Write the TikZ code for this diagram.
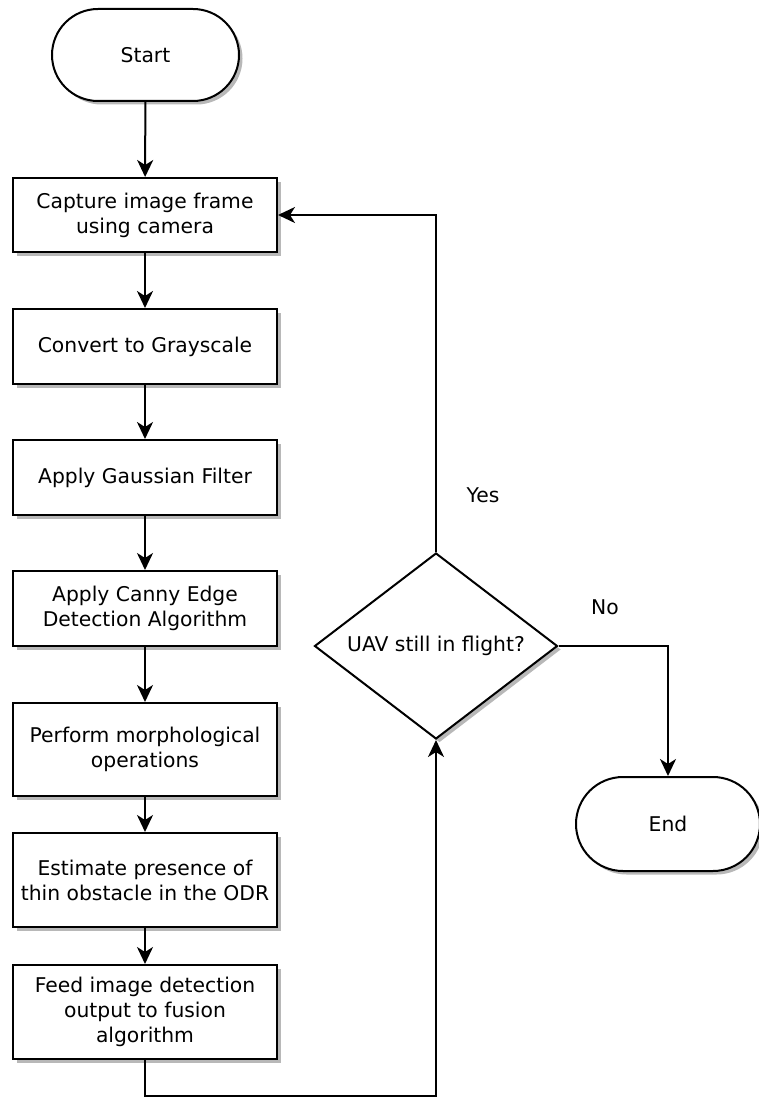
\documentclass[tikz,border=0pt]{standalone}
\usepackage{fontspec}
\setmainfont{DejaVu Sans}
\usetikzlibrary{shapes.geometric,shadows,arrows.meta}
\begin{document}
\begin{tikzpicture}[x=1pt,y=-1pt,
  every node/.style={font=\fontsize{20.3}{25}\selectfont},
  shadowed/.style={drop shadow={shadow xshift=3.5pt,shadow yshift=-3.5pt,fill=black!28,opacity=1}},
  stepbox/.style={draw,line width=2pt,fill=white,shadowed,minimum width=264pt,align=center,inner sep=0pt},
  term/.style={draw,line width=2pt,fill=white,shadowed,inner sep=0pt},
  decide/.style={diamond,draw,line width=2pt,fill=white,shadowed,aspect=1.3,minimum width=243pt,minimum height=186pt,inner sep=0pt},
  flow/.style={line width=2pt,-{Stealth[length=17pt,width=16pt,inset=5pt]}}
]
\useasboundingbox (0,0) rectangle (758,1097);

% terminals
\node[term,rounded corners=46pt,minimum width=187pt,minimum height=92pt] (start) at (145.5,55) {Start};
\node[term,rounded corners=47pt,minimum width=184pt,minimum height=94pt] (end) at (668,824) {End};

% processing steps
\node[stepbox,minimum height=74pt] (s1) at (145,215) {Capture image frame\\using camera};
\node[stepbox,minimum height=75pt] (s2) at (145,346.5) {Convert to Grayscale};
\node[stepbox,minimum height=75pt] (s3) at (145,477.5) {Apply Gaussian Filter};
\node[stepbox,minimum height=75pt] (s4) at (145,608.5) {Apply Canny Edge\\Detection Algorithm};
\node[stepbox,minimum height=93pt] (s5) at (145,749.5) {Perform morphological\\operations};
\node[stepbox,minimum height=94pt] (s6) at (145,880) {Estimate presence of\\thin obstacle in the ODR};
\node[stepbox,minimum height=94pt] (s7) at (145,1012) {Feed image detection\\output to fusion\\algorithm};

% decision
\node[decide] (q) at (436,646) {UAV still in flight?};

% corner points of the routed connectors
\coordinate (yesturn) at (436,215);
\coordinate (noturn) at (668,646);
\coordinate (loopA) at (145,1096);
\coordinate (loopB) at (436,1096);

% straight flow
\draw[flow] (start) -- (s1);
\draw[flow] (s1) -- (s2);
\draw[flow] (s2) -- (s3);
\draw[flow] (s3) -- (s4);
\draw[flow] (s4) -- (s5);
\draw[flow] (s5) -- (s6);
\draw[flow] (s6) -- (s7);

% loop back into the decision
\draw[flow] (s7.south) -- (loopA) -- (loopB) -- (q.south);

% yes: capture the next frame
\draw[flow] (q.north) -- (yesturn) -- (s1.east);

% no: finish
\draw[flow] (q.east) -- (noturn) -- (end.north);

% branch labels
\node (yes) at (483,495) {Yes};
\node (no) at (605,607) {No};
\end{tikzpicture}
\end{document}
